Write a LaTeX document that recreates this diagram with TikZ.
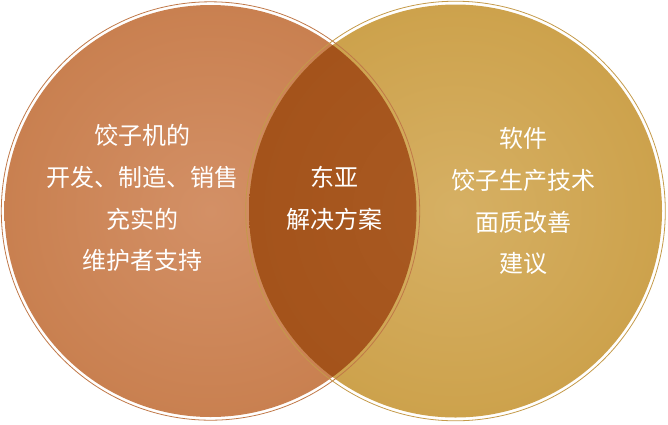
\documentclass[tikz,border=0pt]{standalone}
\usepackage{fontspec}
\newfontfamily\cjk{Noto Sans CJK SC}
\definecolor{lfill}{HTML}{C98050}
\definecolor{lfillin}{HTML}{D39066}
\definecolor{rfill}{HTML}{CDA24C}
\definecolor{rfillin}{HTML}{D6B064}
\definecolor{mid}{HTML}{A4531B}
\definecolor{midin}{HTML}{A95A22}
\definecolor{lline}{HTML}{C07848}
\definecolor{rline}{HTML}{C49A4A}
\tikzset{
  txt/.style={font=\cjk\fontsize{24pt}{26pt}\selectfont, text=white, inner sep=0pt},
  ring/.style={line width=0.8pt}
}
\begin{document}
\begin{tikzpicture}[x=1pt,y=-1pt]
\useasboundingbox (0,0) rectangle (668,424);
\coordinate (lc) at (210.5,211);
\coordinate (rc) at (455.5,211);
% fills
\shade[inner color=lfillin, outer color=lfill] (lc) circle (206);
\shade[inner color=rfillin, outer color=rfill] (rc) circle (206.5);
\begin{scope}
  \clip (lc) circle (206);
  \shade[inner color=midin, outer color=mid] (rc) circle (206.5);
\end{scope}
% rings
\draw[ring, lline] (lc) circle (209.2);
\draw[ring, rline] (rc) circle (209.8);
% texts
\node[txt] (l1) at (142,135) {饺子机的};
\node[txt] (l2) at (142,177.5) {开发、制造、销售};
\node[txt] (l3) at (142,219) {充实的};
\node[txt] (l4) at (142,260.5) {维护者支持};
\node[txt] (m1) at (334,177) {东亚};
\node[txt] (m2) at (334,219) {解决方案};
\node[txt] (r1) at (523,138) {软件};
\node[txt] (r2) at (523,180) {饺子生产技术};
\node[txt] (r3) at (523,222) {面质改善};
\node[txt] (r4) at (523,263) {建议};
\end{tikzpicture}
\end{document}
